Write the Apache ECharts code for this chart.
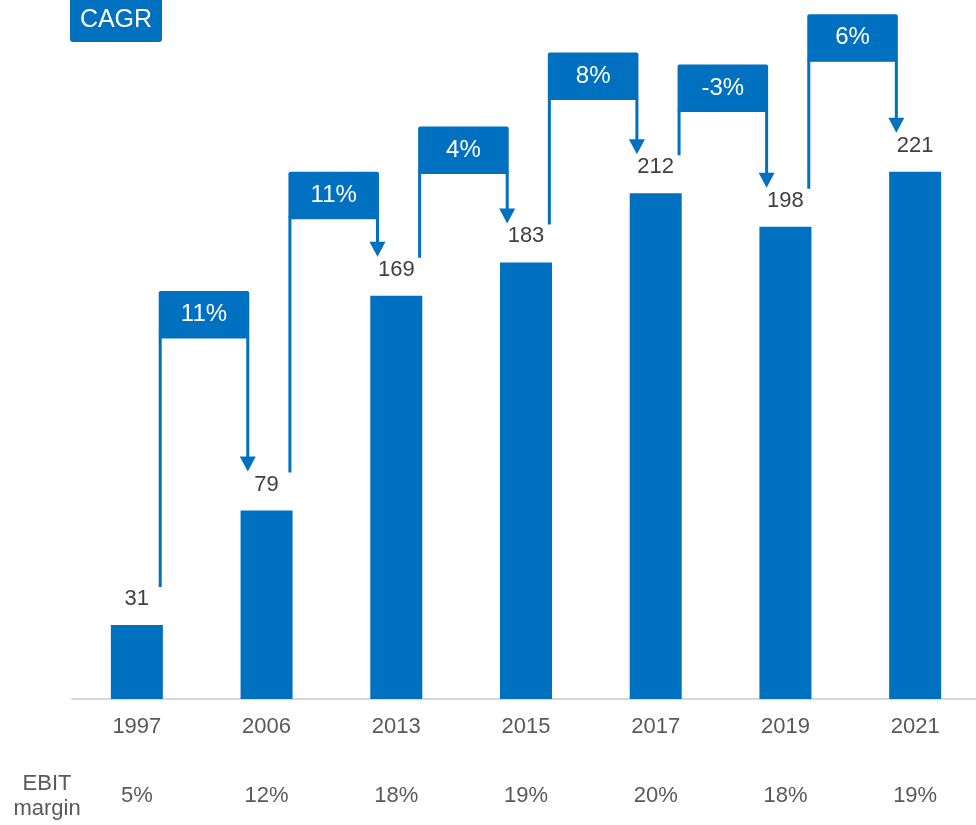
<!DOCTYPE html>
<html>
<head>
<meta charset="utf-8">
<script src="https://cdn.jsdelivr.net/npm/echarts@6/dist/echarts.min.js"></script>
<style>html,body{margin:0;padding:0;background:#fff}#c{width:976px;height:825px}</style>
</head>
<body>
<div id="c"></div>
<script>
const categories = ['1997', '2006', '2013', '2015', '2017', '2019', '2021'];
const values = [31, 79, 169, 183, 212, 198, 221];
const cagrLabels = ['11%', '11%', '4%', '8%', '-3%', '6%'];
const cagrLevels = [171, 221, 240, 271, 266, 287];
const ebitMargins = ['5%', '12%', '18%', '19%', '20%', '18%', '19%'];

const FONT = '"Liberation Sans", Arial, sans-serif';
const BLUE = '#0070C0';

const connectorData = cagrLabels.map((l, i) => [i, values[i], values[i + 1], cagrLevels[i], l]);

const chart = echarts.init(document.getElementById('c'));
chart.setOption({
  animation: false,
  grid: { left: 72, width: 908, top: 0, height: 699, outerBoundsMode: 'none', containLabel: false },
  xAxis: [{
    type: 'category', data: categories,
    axisLine: { lineStyle: { color: '#d9d9d9', width: 2 } },
    axisTick: { show: false },
    axisLabel: { color: '#595959', fontSize: 22, fontFamily: FONT, margin: 17 }
  }, {
    type: 'category', data: ebitMargins, position: 'bottom', offset: 80,
    axisLine: { show: false }, axisTick: { show: false },
    axisLabel: { color: '#595959', fontSize: 22, fontFamily: FONT, margin: 6 }
  }],
  yAxis: { type: 'value', min: 0, max: 293, show: false, splitLine: { show: false } },
  graphic: [
    { type: 'rect', left: 70, top: -4, shape: { width: 92, height: 46, r: 3 }, style: { fill: BLUE } },
    { type: 'text', x: 116, y: 20, style: { text: 'CAGR', fill: '#fff', fontSize: 25, fontFamily: FONT, align: 'center', verticalAlign: 'middle' } },
    { type: 'text', x: 47, y: 796, style: { text: 'EBIT\nmargin', fill: '#595959', fontSize: 22, lineHeight: 25, fontFamily: FONT, align: 'center', verticalAlign: 'middle' } }
  ],
  series: [{
    type: 'bar', data: values, barWidth: 52, xAxisIndex: 0,
    itemStyle: { color: BLUE },
    label: { show: true, position: 'top', distance: 15, color: '#404040', fontSize: 22, fontFamily: FONT }
  }, {
    type: 'custom', xAxisIndex: 0, data: connectorData, clip: false, z: 5,
    renderItem: function (params, api) {
      const i = api.value(0);
      const band = api.size([1, 0])[0];
      const pL = api.coord([i, api.value(1)]);
      const pR = api.coord([i + 1, api.value(2)]);
      const top = api.coord([i, api.value(3)])[1];
      const xL = pL[0] + band * 0.18;
      const xR = pR[0] - band * 0.145;
      const yLb = pL[1] - 38;
      const tip = pR[1] - 39;
      const boxH = 47;
      const yBb = top + boxH;
      return {
        type: 'group',
        children: [
          { type: 'polyline', shape: { points: [[xL, yLb], [xL, yBb - 1], [xR, yBb - 1], [xR, tip - 13]] },
            style: { stroke: BLUE, lineWidth: 3, fill: null } },
          { type: 'rect', shape: { x: xL - 1.5, y: top, width: xR - xL + 3, height: boxH, r: 2 }, style: { fill: BLUE } },
          { type: 'polygon', shape: { points: [[xR - 8, tip - 15], [xR + 8, tip - 15], [xR, tip]] }, style: { fill: BLUE } },
          { type: 'text', style: { text: api.value(4), x: (xL + xR) / 2, y: top + boxH / 2, align: 'center', verticalAlign: 'middle',
            fill: '#fff', fontSize: 24, fontFamily: FONT } }
        ]
      };
    }
  }]
});
</script>
</body>
</html>
